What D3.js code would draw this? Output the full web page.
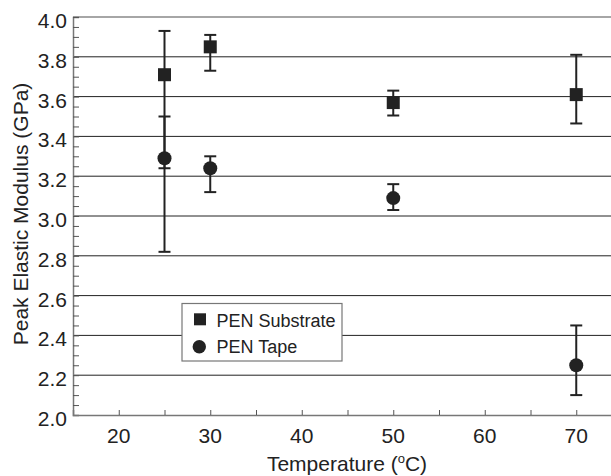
<!DOCTYPE html>
<html><head><meta charset="utf-8">
<script src="https://cdn.jsdelivr.net/npm/d3@7"></script>
<style>body{margin:0;background:#fff}svg{display:block}text{font-family:"Liberation Sans",Arial,sans-serif;fill:#222}</style>
</head><body>
<script>
const temps = [25, 30, 50, 70];
const substrateMean = [3.71, 3.85, 3.57, 3.61];
const substrateLow  = [3.24, 3.73, 3.505, 3.465];
const substrateHigh = [3.93, 3.91, 3.63, 3.81];
const tapeMean = [3.29, 3.24, 3.09, 2.25];
const tapeLow  = [2.82, 3.12, 3.03, 2.10];
const tapeHigh = [3.50, 3.30, 3.16, 2.45];
const yTickLabels = ["2.0","2.2","2.4","2.6","2.8","3.0","3.2","3.4","3.6","3.8","4.0"];
const xTickLabels = ["20","30","40","50","60","70"];
const legendLabels = ["PEN Substrate", "PEN Tape"];

const W = 611, H = 476;
const svg = d3.select("body").append("svg").attr("width", W).attr("height", H);
const x = d3.scaleLinear().domain([15, 75]).range([73, 622]);
const y = d3.scaleLinear().domain([2.0, 4.0]).range([415, 17]);

// gridlines
const grid = yTickLabels.map(Number).filter(v => v > 2.0 && v < 4.0);
svg.append("g").selectAll("line").data(grid).join("line")
  .attr("x1", x(15)).attr("x2", W).attr("y1", d => y(d)).attr("y2", d => y(d))
  .attr("stroke", "#222").attr("stroke-width", 1);
// top frame
svg.append("line").attr("x1", x(15)).attr("x2", W).attr("y1", y(4)).attr("y2", y(4))
  .attr("stroke", "#888").attr("stroke-width", 1.5);

// y axis (inward ticks)
const yAxis = d3.axisRight(y).tickValues(d3.range(0, 41).map(i => 2 + i * 0.05)).tickSize(6).tickFormat("");
const gy = svg.append("g").attr("transform", `translate(${x(15)},0)`).call(yAxis);
gy.select(".domain").attr("stroke", "#777").attr("stroke-width", 1.5);
gy.selectAll(".tick line").attr("stroke", "#555");
svg.append("g").selectAll("text").data(yTickLabels).join("text")
  .attr("x", 67).attr("y", d => y(+d) + 11)
  .attr("text-anchor", "end").attr("font-size", 21).text(d => d);

// x axis (inward ticks)
const xAxis = d3.axisTop(x).tickValues(d3.range(20, 75, 5)).tickSize(5).tickFormat("");
const gx = svg.append("g").attr("transform", `translate(0,${y(2)})`).call(xAxis);
gx.select(".domain").attr("stroke", "#777").attr("stroke-width", 1.5);
gx.selectAll(".tick line").attr("stroke", "#555");
svg.append("g").selectAll("text").data(xTickLabels).join("text")
  .attr("x", d => x(+d)).attr("y", 443).attr("text-anchor", "middle").attr("font-size", 21).text(d => d);

// axis titles
const xt = svg.append("text").attr("x", 347).attr("y", 471).attr("text-anchor", "middle").attr("font-size", 21);
xt.append("tspan").text("Temperature (");
xt.append("tspan").attr("font-size", 13).attr("dy", -8).text("o");
xt.append("tspan").attr("dy", 8).text("C)");
svg.append("text").attr("transform", `translate(28,214) rotate(-90)`)
  .attr("text-anchor", "middle").attr("font-size", 21).text("Peak Elastic Modulus (GPa)");

// error bars & markers
function series(mean, lo, hi, shape) {
  const g = svg.append("g");
  const d = temps.map((t, i) => ({t, m: mean[i], lo: lo[i], hi: hi[i]}));
  g.selectAll(".v").data(d).join("line").attr("x1", e => x(e.t)).attr("x2", e => x(e.t))
    .attr("y1", e => y(e.lo)).attr("y2", e => y(e.hi)).attr("stroke", "#222").attr("stroke-width", 2);
  ["lo", "hi"].forEach(k => g.selectAll(".c" + k).data(d).join("line")
    .attr("x1", e => x(e.t) - 6).attr("x2", e => x(e.t) + 6)
    .attr("y1", e => y(e[k])).attr("y2", e => y(e[k])).attr("stroke", "#222").attr("stroke-width", 2));
  if (shape === "square") {
    g.selectAll("rect").data(d).join("rect").attr("x", e => x(e.t) - 6.5).attr("y", e => y(e.m) - 6.5)
      .attr("width", 13).attr("height", 13).attr("fill", "#222");
  } else {
    g.selectAll("circle").data(d).join("circle").attr("cx", e => x(e.t)).attr("cy", e => y(e.m))
      .attr("r", 7).attr("fill", "#222");
  }
}
series(substrateMean, substrateLow, substrateHigh, "square");
series(tapeMean, tapeLow, tapeHigh, "circle");

// legend
const lg = svg.append("g");
lg.append("rect").attr("x", 182).attr("y", 303.5).attr("width", 160).attr("height", 57.5)
  .attr("fill", "#fff").attr("stroke", "#777").attr("stroke-width", 1.2);
lg.append("rect").attr("x", 194).attr("y", 313.3).attr("width", 12).attr("height", 12).attr("fill", "#222");
lg.append("circle").attr("cx", 199.3).attr("cy", 346.7).attr("r", 6.7).attr("fill", "#222");
lg.selectAll("text").data(legendLabels).join("text")
  .attr("x", 216.5).attr("y", (d, i) => 326.5 + i * 26.2).attr("font-size", 18).text(d => d);
</script>
</body></html>
